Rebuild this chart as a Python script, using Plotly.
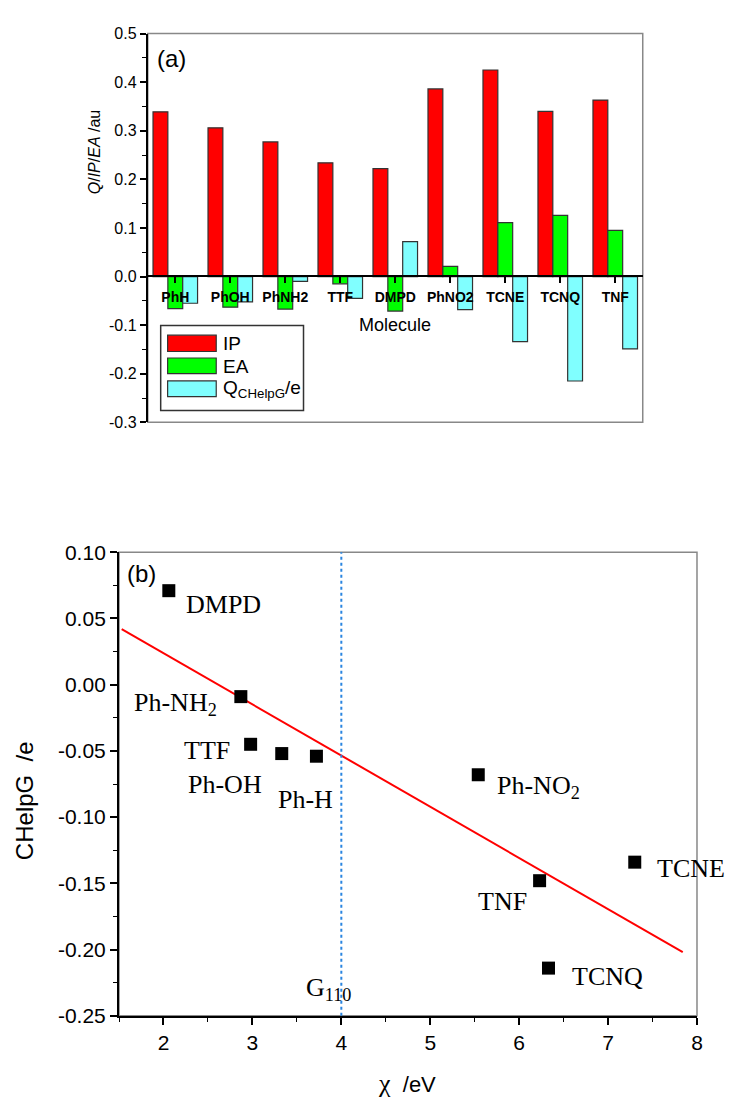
import plotly.graph_objects as go

# ---------------- data ----------------
molecules = ["PhH", "PhOH", "PhNH2", "TTF", "DMPD", "PhNO2", "TCNE", "TCNQ", "TNF"]
ip_values = [0.339, 0.306, 0.277, 0.234, 0.222, 0.386, 0.425, 0.340, 0.363]
ea_values = [-0.066, -0.063, -0.067, -0.015, -0.071, 0.021, 0.111, 0.126, 0.095]
q_values = [-0.055, -0.052, -0.010, -0.045, 0.072, -0.068, -0.134, -0.215, -0.149]

top_yticks = [-0.3, -0.2, -0.1, 0.0, 0.1, 0.2, 0.3, 0.4, 0.5]
top_yticktext = ["-0.3", "-0.2", "-0.1", "0.0", "0.1", "0.2", "0.3", "0.4", "0.5"]

chi_values = [2.06, 2.87, 2.98, 3.33, 3.72, 5.54, 6.23, 7.30, 6.33]
chelpg_values = [0.071, -0.009, -0.045, -0.052, -0.054, -0.068, -0.148, -0.134, -0.214]
point_labels = ["DMPD", "Ph-NH<sub>2</sub>", "TTF", "Ph-OH", "Ph-H",
                "Ph-NO<sub>2</sub>", "TNF", "TCNE", "TCNQ"]
fit_x = [1.53, 7.84]
fit_y = [0.042, -0.202]
g110_x = 4.0

bot_xticks = [2, 3, 4, 5, 6, 7, 8]
bot_yticks = [-0.25, -0.20, -0.15, -0.10, -0.05, 0.00, 0.05, 0.10]
bot_yticktext = ["-0.25", "-0.20", "-0.15", "-0.10", "-0.05", "0.00", "0.05", "0.10"]

# ---------------- layout helpers (pixel -> paper) ----------------
W, H = 739, 1111
def px(x):
    return x / W
def py(y):
    return 1 - y / H

SANS = "Liberation Sans, Arial, sans-serif"
SERIF = "Liberation Serif, Times New Roman, serif"

RED = "#FF0000"
GREEN = "#00FF00"
CYAN = "#80FFFF"
OUTLINE = "#333333"

fig = go.Figure()

# ---------------- (a) bars ----------------
for name, vals, col in [("IP", ip_values, RED), ("EA", ea_values, GREEN),
                        ("Q", q_values, CYAN)]:
    fig.add_trace(go.Bar(x=molecules, y=vals, name=name, marker_color=col,
                         marker_line=dict(color=OUTLINE, width=1.2),
                         xaxis="x", yaxis="y", showlegend=False))

# ---------------- (b) scatter ----------------
fig.add_trace(go.Scatter(x=fit_x, y=fit_y, mode="lines",
                         line=dict(color="#FF0000", width=2),
                         xaxis="x2", yaxis="y2", showlegend=False))
fig.add_trace(go.Scatter(x=chi_values, y=chelpg_values, mode="markers",
                         marker=dict(symbol="square", size=13, color="black"),
                         xaxis="x2", yaxis="y2", showlegend=False, cliponaxis=False))

top_y0, top_y1 = 419, 22
zero_y = 270

fig.update_layout(
    width=W, height=H, autosize=False,
    margin=dict(l=0, r=0, t=0, b=0),
    paper_bgcolor="white", plot_bgcolor="white",
    barmode="group", bargap=0.19, bargroupgap=0.0,
    font=dict(family=SANS, color="black"),
    xaxis=dict(
        type="category", range=[-0.5, 8.5],
        domain=[px(149), px(648)], anchor="free", position=py(zero_y),
        showline=True, linecolor="black", linewidth=2,
        ticks="outside", ticklen=6, tickwidth=1.5, tickcolor="black",
        tickfont=dict(family=SANS, size=14, color="black", weight="bold"),
        ticklabelstandoff=2,
        showgrid=False, zeroline=False, fixedrange=True,
    ),
    xaxis3=dict(
        range=[-0.5, 8.5], overlaying="x", domain=[px(149), px(648)],
        anchor="free", position=py(zero_y),
        tickvals=[-0.5, 0.5, 1.5, 2.5, 3.5, 4.5, 5.5, 6.5, 7.5, 8.5],
        showticklabels=False, showline=False,
        ticks="outside", ticklen=3, tickwidth=1.5, tickcolor="black",
        showgrid=False, zeroline=False, fixedrange=True,
    ),
    yaxis=dict(
        range=[-0.3, 0.5], domain=[py(top_y0), py(top_y1)], anchor="x",
        tickvals=top_yticks, ticktext=top_yticktext,
        showline=True, linecolor="black", linewidth=2,
        ticks="outside", ticklen=6, tickwidth=1.5, tickcolor="black",
        minor=dict(dtick=0.05, tick0=0, ticks="outside", ticklen=4,
                   tickwidth=1.2, tickcolor="black", showgrid=False),
        tickfont=dict(family=SANS, size=16, color="black"),
        showgrid=False, zeroline=False, fixedrange=True,
    ),
    xaxis2=dict(
        range=[1.5, 8], domain=[px(120), px(702.7)], anchor="y2",
        tickvals=bot_xticks,
        showline=True, linecolor="black", linewidth=2,
        ticks="outside", ticklen=7, tickwidth=1.5, tickcolor="black",
        minor=dict(dtick=0.5, tick0=1.5, ticks="outside", ticklen=4,
                   tickwidth=1.2, tickcolor="black", showgrid=False),
        tickfont=dict(family=SANS, size=21, color="black"),
        showgrid=False, zeroline=False, fixedrange=True,
    ),
    yaxis2=dict(
        range=[-0.25, 0.10], domain=[py(1025), py(551.7)], anchor="x2",
        tickvals=bot_yticks, ticktext=bot_yticktext,
        showline=True, linecolor="black", linewidth=2,
        ticks="outside", ticklen=7, tickwidth=1.5, tickcolor="black",
        minor=dict(dtick=0.025, tick0=0, ticks="outside", ticklen=4,
                   tickwidth=1.2, tickcolor="black", showgrid=False),
        tickfont=dict(family=SANS, size=21, color="black"),
        showgrid=False, zeroline=False, fixedrange=True,
    ),
)

shapes = []
# frames
shapes.append(dict(type="rect", xref="x domain", yref="y domain", x0=0, x1=1, y0=0, y1=1,
                   line=dict(color="#888888", width=1.5), layer="below"))
shapes.append(dict(type="rect", xref="x2 domain", yref="y2 domain", x0=0, x1=1, y0=0, y1=1,
                   line=dict(color="#888888", width=1.5), layer="below"))
# G110 dotted line
shapes.append(dict(type="line", xref="x2", yref="y2 domain", x0=g110_x, x1=g110_x, y0=0, y1=1,
                   line=dict(color="#2A85E0", width=2, dash="dot"), layer="above"))

# custom legend for (a)
shapes.append(dict(type="rect", xref="paper", yref="paper",
                   x0=px(162), x1=px(306), y0=py(407), y1=py(320),
                   line=dict(color="#333333", width=1.5), fillcolor="white", layer="above"))
legend_items = [("IP", RED, 330, 346.7, 338),
                ("EA", GREEN, 353.3, 369.3, 361.5),
                ("Q<sub>CHelpG</sub>/e", CYAN, 376.7, 392.7, 384.5)]
annotations = []
for text, col, ya, yb, yc in legend_items:
    shapes.append(dict(type="rect", xref="paper", yref="paper",
                       x0=px(169), x1=px(218), y0=py(yb), y1=py(ya),
                       line=dict(color=OUTLINE, width=1.2), fillcolor=col, layer="above"))
    annotations.append(dict(xref="paper", yref="paper", x=px(223), y=py(yc),
                            text=text, showarrow=False, xanchor="left", yanchor="middle",
                            font=dict(family=SANS, size=19, color="black")))

# text annotations (a)
annotations.append(dict(xref="paper", yref="paper", x=px(156), y=py(47), text="(a)",
                        showarrow=False, xanchor="left", yanchor="middle",
                        font=dict(family=SANS, size=24, color="black")))
annotations.append(dict(xref="paper", yref="paper", x=px(398.5), y=py(320), text="Molecule",
                        showarrow=False, xanchor="center", yanchor="middle",
                        font=dict(family=SANS, size=18, color="black")))
annotations.append(dict(xref="paper", yref="paper", x=px(95), y=py(143),
                        text="<i>Q</i>/<i>IP</i>/<i>EA</i> /au", textangle=-90,
                        showarrow=False, xanchor="center", yanchor="middle",
                        font=dict(family=SANS, size=16, color="black")))

# text annotations (b)
annotations.append(dict(xref="paper", yref="paper", x=px(126), y=py(573), text="(b)",
                        showarrow=False, xanchor="left", yanchor="middle",
                        font=dict(family=SANS, size=24, color="black")))
annotations.append(dict(xref="paper", yref="paper", x=px(25), y=py(805),
                        text="CHelpG\u00a0\u00a0/e", textangle=-90,
                        showarrow=False, xanchor="center", yanchor="middle",
                        font=dict(family=SANS, size=24, color="black")))
annotations.append(dict(xref="paper", yref="paper", x=px(410), y=py(1094),
                        text='<span style="font-family:Liberation Serif;font-size:26px">\u03c7</span>\u00a0\u00a0/eV',
                        showarrow=False, xanchor="center", yanchor="middle",
                        font=dict(family=SANS, size=22, color="black")))
annotations.append(dict(xref="x2", yref="paper", x=g110_x, xshift=-37, y=py(998),
                        text="G<sub>110</sub>", showarrow=False,
                        xanchor="left", yanchor="middle",
                        font=dict(family=SERIF, size=26, color="black")))

# point labels: (xanchor, xshift, yshift) per label
label_offsets = [("left", 15, -14), ("right", -22, -7), ("right", -19, -6),
                 ("right", -18, -31), ("center", -11, -43), ("left", 17, -12),
                 ("right", -11, -21), ("left", 20, -6), ("left", 21, -8)]
for xv, yv, lab, (xa, dx, dy) in zip(chi_values, chelpg_values, point_labels, label_offsets):
    annotations.append(dict(xref="x2", yref="y2", x=xv, y=yv, text=lab,
                            showarrow=False, xanchor=xa, yanchor="middle",
                            xshift=dx, yshift=dy,
                            font=dict(family=SERIF, size=26, color="black")))

fig.update_layout(shapes=shapes, annotations=annotations)

fig.write_html("out.html", config={"displayModeBar": False},
               post_script="document.body.style.margin='0';document.body.style.overflow='hidden';")
